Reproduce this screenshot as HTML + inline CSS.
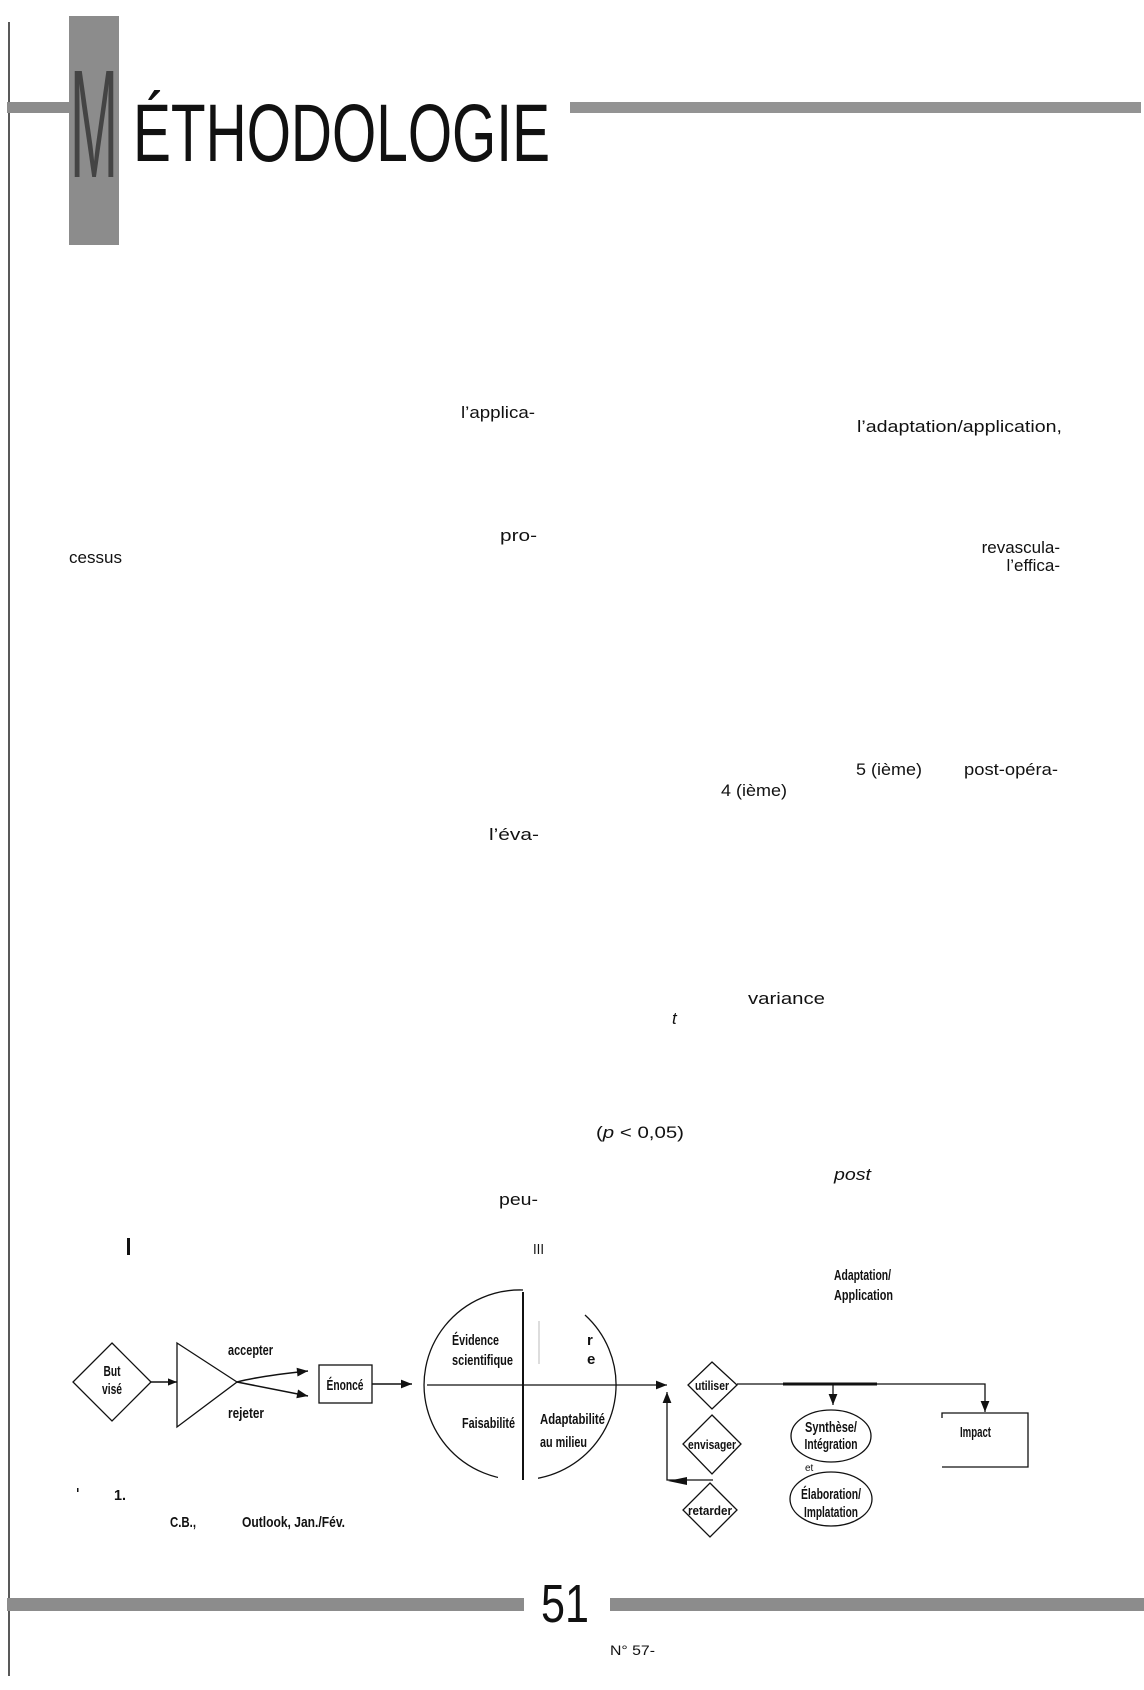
<!DOCTYPE html>
<html><head><meta charset="utf-8">
<style>
html,body{margin:0;padding:0;background:#fff;}
svg{display:block;}
text{font-family:"Liberation Sans",sans-serif;fill:#111;}
.b{font-size:17px;}
.d{font-weight:bold;font-size:15px;}
</style></head>
<body>
<svg width="1144" height="1690" viewBox="0 0 1144 1690" xmlns="http://www.w3.org/2000/svg">
<defs>
<marker id="ah" viewBox="0 0 10 10" refX="10" refY="5" markerWidth="9" markerHeight="9" markerUnits="userSpaceOnUse" orient="auto">
<path d="M0,1 L10,5 L0,9 z" fill="#111"/></marker>
<marker id="ahl" viewBox="0 0 10 10" refX="10" refY="5" markerWidth="17" markerHeight="11" markerUnits="userSpaceOnUse" orient="auto">
<path d="M0,1 L10,5 L0,9 z" fill="#111"/></marker>
</defs>

<line x1="9" y1="22" x2="9" y2="1676" stroke="#222" stroke-width="1.5"/>

<rect x="69" y="16" width="50" height="229" fill="#8c8c8c"/>
<rect x="7" y="102" width="63" height="11" fill="#8c8c8c"/>
<rect x="570" y="102" width="571" height="11" fill="#939393"/>
<text x="70" y="177" font-size="154" textLength="48" lengthAdjust="spacingAndGlyphs" style="fill:#444">M</text>
<text x="133" y="161" font-size="82" textLength="417" lengthAdjust="spacingAndGlyphs">ÉTHODOLOGIE</text>

<text class="b" x="461" y="418" textLength="74" lengthAdjust="spacingAndGlyphs">l’applica-</text>
<text class="b" x="857" y="432" textLength="205" lengthAdjust="spacingAndGlyphs">l’adaptation/application,</text>
<text class="b" x="500" y="541" textLength="37" lengthAdjust="spacingAndGlyphs">pro-</text>
<text class="b" x="69" y="563" textLength="53" lengthAdjust="spacingAndGlyphs">cessus</text>
<text class="b" x="1060" y="553" text-anchor="end">revascula-</text>
<text class="b" x="1060" y="571" text-anchor="end">l’effica-</text>
<text class="b" x="856" y="775" textLength="66" lengthAdjust="spacingAndGlyphs">5 (ième)</text>
<text class="b" x="964" y="775" textLength="94" lengthAdjust="spacingAndGlyphs">post-opéra-</text>
<text class="b" x="721" y="796" textLength="66" lengthAdjust="spacingAndGlyphs">4 (ième)</text>
<text class="b" x="489" y="840" textLength="50" lengthAdjust="spacingAndGlyphs">l’éva-</text>
<text class="b" x="748" y="1004" textLength="77" lengthAdjust="spacingAndGlyphs">variance</text>
<text class="b" x="672" y="1024" font-style="italic">t</text>
<text class="b" x="596" y="1138" textLength="88" lengthAdjust="spacingAndGlyphs">(<tspan font-style="italic">p</tspan> &lt; 0,05)</text>
<text class="b" x="834" y="1180" font-style="italic" textLength="37" lengthAdjust="spacingAndGlyphs">post</text>
<text class="b" x="499" y="1205" textLength="39" lengthAdjust="spacingAndGlyphs">peu-</text>

<rect x="127" y="1238" width="3" height="17" fill="#111"/>
<text x="533" y="1254" font-size="15" textLength="11" lengthAdjust="spacingAndGlyphs">III</text>
<text class="d" x="834" y="1280" textLength="57" lengthAdjust="spacingAndGlyphs">Adaptation/</text>
<text class="d" x="834" y="1300" textLength="59" lengthAdjust="spacingAndGlyphs">Application</text>

<polygon points="112,1343 151,1382 112,1421 73,1382" fill="none" stroke="#111" stroke-width="1.3"/>
<text class="d" x="112" y="1376" text-anchor="middle" textLength="17" lengthAdjust="spacingAndGlyphs">But</text>
<text class="d" x="112" y="1394" text-anchor="middle" textLength="20" lengthAdjust="spacingAndGlyphs">visé</text>
<line x1="151" y1="1382" x2="177" y2="1382" stroke="#111" stroke-width="1.5" marker-end="url(#ah)"/>

<polygon points="177,1343 237,1382 177,1427" fill="none" stroke="#111" stroke-width="1.3"/>
<path d="M237,1382 Q260,1376 308,1371" fill="none" stroke="#111" stroke-width="1.5" marker-end="url(#ahl)"/>
<line x1="237" y1="1382" x2="308" y2="1396" stroke="#111" stroke-width="1.5" marker-end="url(#ahl)"/>
<text class="d" x="228" y="1355" textLength="45" lengthAdjust="spacingAndGlyphs">accepter</text>
<text class="d" x="228" y="1418" textLength="36" lengthAdjust="spacingAndGlyphs">rejeter</text>

<rect x="319" y="1365" width="53" height="38" fill="none" stroke="#111" stroke-width="1.3"/>
<text class="d" x="345" y="1390" text-anchor="middle" textLength="37" lengthAdjust="spacingAndGlyphs">Énoncé</text>
<line x1="372" y1="1384" x2="412" y2="1384" stroke="#111" stroke-width="1.5" marker-end="url(#ahl)"/>

<path d="M585,1315 A96,95 0 1 1 523,1290" fill="none" stroke="#111" stroke-width="1.3"/>
<rect x="498" y="1474" width="40" height="8" fill="#fff"/>
<line x1="523" y1="1292" x2="523" y2="1480" stroke="#111" stroke-width="2"/>
<line x1="539" y1="1321" x2="539" y2="1364" stroke="#bbb" stroke-width="1"/>
<line x1="427" y1="1385" x2="667" y2="1385" stroke="#111" stroke-width="1.3" marker-end="url(#ahl)"/>
<text class="d" x="452" y="1345" textLength="47" lengthAdjust="spacingAndGlyphs">Évidence</text>
<text class="d" x="452" y="1365" textLength="61" lengthAdjust="spacingAndGlyphs">scientifique</text>
<text class="d" x="587" y="1345">r</text>
<text class="d" x="587" y="1364">e</text>
<text class="d" x="462" y="1428" textLength="53" lengthAdjust="spacingAndGlyphs">Faisabilité</text>
<text class="d" x="540" y="1424" textLength="65" lengthAdjust="spacingAndGlyphs">Adaptabilité</text>
<text class="d" x="540" y="1447" textLength="47" lengthAdjust="spacingAndGlyphs">au milieu</text>

<polyline points="713,1480 667,1480 667,1392" fill="none" stroke="#111" stroke-width="1.3" marker-end="url(#ahl)"/>
<path d="M687,1477 L668,1481 L687,1485 z" fill="#111"/>

<polygon points="712,1362 737,1385 712,1409 688,1385" fill="none" stroke="#111" stroke-width="1.3"/>
<text x="712" y="1390" text-anchor="middle" font-weight="bold" font-size="13" textLength="34" lengthAdjust="spacingAndGlyphs">utiliser</text>
<polygon points="712,1415 741,1444 712,1474 683,1444" fill="none" stroke="#111" stroke-width="1.3"/>
<text x="712" y="1449" text-anchor="middle" font-weight="bold" font-size="13" textLength="48" lengthAdjust="spacingAndGlyphs">envisager</text>
<polygon points="710,1483 737,1510 710,1537 683,1510" fill="none" stroke="#111" stroke-width="1.3"/>
<text x="710" y="1515" text-anchor="middle" font-weight="bold" font-size="13" textLength="44" lengthAdjust="spacingAndGlyphs">retarder</text>

<polyline points="737,1384 985,1384 985,1412" fill="none" stroke="#111" stroke-width="1.3" marker-end="url(#ahl)"/>
<line x1="783" y1="1384" x2="877" y2="1384" stroke="#111" stroke-width="3"/>
<line x1="833" y1="1384" x2="833" y2="1405" stroke="#111" stroke-width="1.3" marker-end="url(#ahl)"/>
<ellipse cx="831" cy="1436" rx="40" ry="26" fill="none" stroke="#111" stroke-width="1.3"/>
<text class="d" x="831" y="1432" text-anchor="middle" font-size="13" textLength="52" lengthAdjust="spacingAndGlyphs">Synthèse/</text>
<text class="d" x="831" y="1449" text-anchor="middle" font-size="13" textLength="53" lengthAdjust="spacingAndGlyphs">Intégration</text>
<text x="805" y="1471" font-size="10">et</text>
<ellipse cx="831" cy="1499" rx="41" ry="27" fill="none" stroke="#111" stroke-width="1.3"/>
<text class="d" x="831" y="1499" text-anchor="middle" font-size="13" textLength="60" lengthAdjust="spacingAndGlyphs">Élaboration/</text>
<text class="d" x="831" y="1517" text-anchor="middle" font-size="13" textLength="54" lengthAdjust="spacingAndGlyphs">Implatation</text>
<polyline points="942,1418 942,1413 1028,1413 1028,1467 942,1467" fill="none" stroke="#111" stroke-width="1.3"/>
<text class="d" x="960" y="1437" font-size="13" textLength="31" lengthAdjust="spacingAndGlyphs">Impact</text>

<rect x="77" y="1488" width="1.5" height="4" fill="#111"/>
<text class="d" x="114" y="1500" textLength="12" lengthAdjust="spacingAndGlyphs">1.</text>
<text class="d" x="170" y="1527" textLength="26" lengthAdjust="spacingAndGlyphs">C.B.,</text>
<text class="d" x="242" y="1527" textLength="103" lengthAdjust="spacingAndGlyphs">Outlook, Jan./Fév.</text>

<rect x="7" y="1598" width="517" height="13" fill="#8c8c8c"/>
<rect x="610" y="1598" width="534" height="13" fill="#8c8c8c"/>
<text x="541" y="1622" font-size="54" textLength="48" lengthAdjust="spacingAndGlyphs">51</text>
<text x="610" y="1655" font-size="14" textLength="45" lengthAdjust="spacingAndGlyphs">N° 57-</text>
</svg>
</body></html>
